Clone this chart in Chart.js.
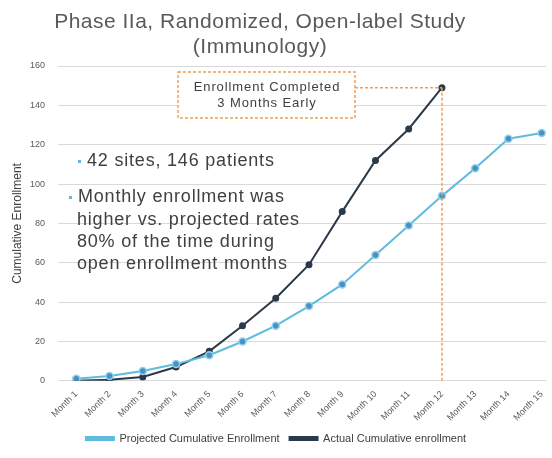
<!DOCTYPE html>
<html>
<head>
<meta charset="utf-8">
<script src="https://cdn.jsdelivr.net/npm/chart.js@4/dist/chart.umd.min.js"></script>
<style>
  body { margin: 0; background: #fff; }
  #wrap { width: 552px; height: 458px; }
</style>
</head>
<body>
<div id="wrap"><canvas id="chart"></canvas></div>
<script>
const months = ['Month 1','Month 2','Month 3','Month 4','Month 5','Month 6','Month 7','Month 8',
  'Month 9','Month 10','Month 11','Month 12','Month 13','Month 14','Month 15'];
const projected = [1, 2.5, 5, 8.5, 13, 20, 28, 38, 49, 64, 79, 94, 108, 123, 126];
const actual = [0, 0.5, 2, 7, 15, 28, 42, 59, 86, 112, 128, 149];
const yTicks = [0, 20, 40, 60, 80, 100, 120, 140, 160];

const titleLines = ['Phase IIa, Randomized, Open-label Study', '(Immunology)'];
const boxLines = ['Enrollment Completed', '3 Months Early'];
const bullets = ['42 sites, 146 patients', 'Monthly enrollment was'];
const bulletMore = ['higher vs. projected rates', '80% of the time during', 'open enrollment months'];

const font = '"Liberation Sans", Arial, sans-serif';
const orange = '#F0A050';

// titre, encadre, texte et lignes pointillees
const extras = {
  id: 'extras',
  afterDatasetsDraw(chart) {
    const ctx = chart.ctx;
    const xs = chart.scales.x, ys = chart.scales.y;
    const last = actual.length - 1;
    const px = xs.getPixelForValue(last + 1);
    const py = ys.getPixelForValue(actual[last]);
    const area = chart.chartArea;

    ctx.save();
    // title
    ctx.fillStyle = '#595959';
    ctx.font = '21px ' + font;
    ctx.letterSpacing = '0.5px';
    ctx.textAlign = 'center';
    ctx.textBaseline = 'middle';
    ctx.fillText(titleLines[0], 260, 22);
    ctx.fillText(titleLines[1], 260, 47);

    // dashed guide lines
    ctx.strokeStyle = orange;
    ctx.lineWidth = 1.5;
    ctx.setLineDash([3, 2]);
    ctx.beginPath();
    ctx.moveTo(px, py);
    ctx.lineTo(px, area.bottom);
    ctx.moveTo(355, py);
    ctx.lineTo(px, py);
    ctx.stroke();

    // box
    ctx.fillStyle = '#fff';
    ctx.fillRect(178, 72, 177, 46);
    ctx.strokeRect(178, 72, 177, 46);
    ctx.setLineDash([]);
    ctx.fillStyle = '#404040';
    ctx.font = '13px ' + font;
    ctx.letterSpacing = '0.9px';
    ctx.fillText(boxLines[0], 267, 87);
    ctx.fillText(boxLines[1], 267, 103);

    // bullet text
    ctx.textAlign = 'left';
    ctx.font = '18px ' + font;
    ctx.letterSpacing = '0.8px';
    ctx.fillStyle = '#404040';
    ctx.fillText(bullets[0], 87, 161);
    ctx.fillText(bullets[1], 78, 197);
    bulletMore.forEach((t, i) => ctx.fillText(t, 77, 220 + i * 22));
    ctx.fillStyle = '#5DBCE0';
    ctx.fillRect(78, 160, 3, 3);
    ctx.fillRect(69, 196, 3, 3);
    ctx.restore();
  }
};

new Chart(document.getElementById('chart'), {
  type: 'line',
  data: {
    datasets: [{
      label: 'Projected Cumulative Enrollment',
      data: projected.map((v, i) => ({ x: i + 1, y: v })),
      borderColor: '#5DBCE0',
      backgroundColor: '#5DBCE0',
      borderWidth: 2,
      pointRadius: 3.5,
      pointBackgroundColor: '#4A90C2',
      pointBorderColor: '#8FD0EC',
      pointBorderWidth: 1.5,
      tension: 0
    }, {
      label: 'Actual Cumulative enrollment',
      data: actual.map((v, i) => ({ x: i + 1, y: v })),
      borderColor: '#2B3A4A',
      backgroundColor: '#2B3A4A',
      borderWidth: 2,
      pointRadius: 2.5,
      pointBackgroundColor: '#2B3A4A',
      pointBorderColor: '#2B3A4A',
      tension: 0
    }]
  },
  options: {
    responsive: true,
    maintainAspectRatio: false,
    animation: false,
    layout: { padding: { top: 66, right: 4, left: 4, bottom: 4 } },
    scales: {
      x: {
        type: 'linear',
        min: 0.45,
        max: 15.13,
        grid: { display: false },
        border: { display: false },
        afterBuildTicks: axis => { axis.ticks = months.map((m, i) => ({ value: i + 1 })); },
        ticks: {
          callback: v => months[v - 1],
          color: '#595959',
          font: { family: font, size: 9 },
          maxRotation: 45,
          minRotation: 45,
          padding: 0
        }
      },
      y: {
        min: 0,
        max: 160,
        afterBuildTicks: axis => { axis.ticks = yTicks.map(v => ({ value: v })); },
        afterFit: axis => { axis.width = 54; },
        grid: { color: '#D9D9D9', drawTicks: false },
        border: { display: false },
        title: {
          display: true,
          text: 'Cumulative Enrollment',
          color: '#404040',
          font: { family: font, size: 12 },
          padding: { top: 6, bottom: 0 }
        },
        ticks: {
          color: '#595959',
          font: { family: font, size: 9 },
          padding: 13
        }
      }
    },
    plugins: {
      legend: {
        position: 'bottom',
        labels: {
          color: '#404040',
          font: { family: font, size: 11 },
          boxWidth: 28,
          boxHeight: 3,
          padding: 10
        }
      },
      tooltip: { enabled: false }
    }
  },
  plugins: [extras]
});
</script>
</body>
</html>
